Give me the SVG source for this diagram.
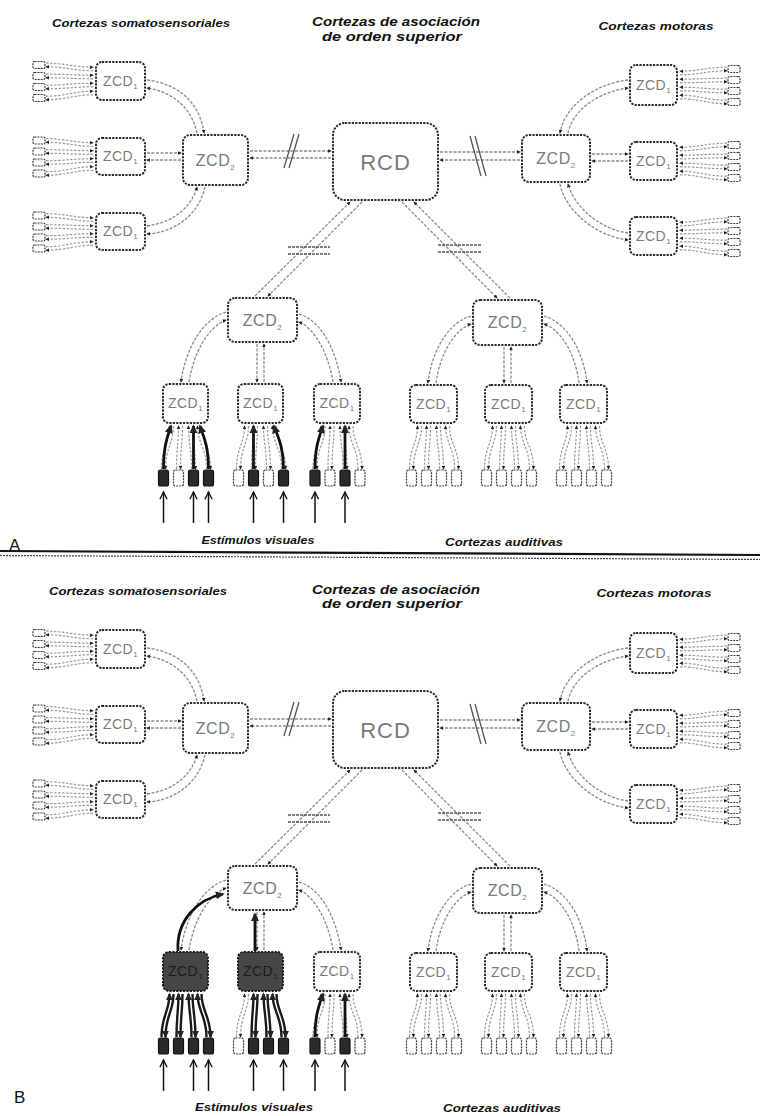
<svg xmlns="http://www.w3.org/2000/svg" xmlns:xlink="http://www.w3.org/1999/xlink" width="760" height="1116" viewBox="0 0 760 1116">
<style>
.nd{fill:#fff;stroke:#2b2b2b;stroke-width:2;stroke-dasharray:2.2 1.2}
.ndk{fill:#464646;stroke:#1a1a1a;stroke-width:2;stroke-dasharray:2.2 1.2}
.nt{font-family:"Liberation Sans",Arial,sans-serif;font-size:14px;fill:#7a7a7a;text-anchor:middle;letter-spacing:0.5px}
.ntk{fill:#1c1c1c}
.n2{font-size:16px}
.n3{font-size:22px;letter-spacing:1px}
.sb{font-size:8px}
.rc{fill:#fff;stroke:#3a3a3a;stroke-width:1.2;stroke-dasharray:2 1}
.rf{fill:#2a2a2a;stroke:#111;stroke-width:1.2}
.ln{fill:none}
.fg{stroke:#9a9a9a;stroke-width:1.2;stroke-dasharray:2.5 1.5}
.fk{stroke:#1a1a1a;stroke-width:2.4;stroke-dasharray:none}
.cn{fill:none;stroke:#8a8a8a;stroke-width:1.3;stroke-dasharray:3 1.5}
.tk{fill:none;stroke:#111;stroke-width:2.8}
.st{fill:none;stroke:#111;stroke-width:1.5}
.br{fill:none;stroke:#555;stroke-width:1.3}
.tt{font-family:"Liberation Sans",Arial,sans-serif;font-weight:bold;font-style:italic;fill:#111;text-anchor:middle}
.lb{font-family:"Liberation Sans",Arial,sans-serif;font-size:17px;fill:#111}
</style>
<defs>
<marker id="ah" viewBox="0 0 10 10" refX="8" refY="5" markerWidth="3.2" markerHeight="3.2" orient="auto"><path d="M0,0.5 L10,5 L0,9.5 z" fill="#222"/></marker>
<marker id="oa" markerUnits="userSpaceOnUse" viewBox="0 0 10 10" refX="9" refY="5" markerWidth="9" markerHeight="9" orient="auto"><path d="M1,1 L9,5 L1,9" fill="none" stroke="#111" stroke-width="1.5"/></marker>
<g id="lkL" class="ln">
<path d="M-50,-17.8 C-30,-17.8 -22,-13.8 -3,-13.8" marker-end="url(#ah)"/>
<path d="M-3,-10.2 C-22,-10.2 -30,-14.2 -50,-14.2" marker-end="url(#ah)"/>
<path d="M-50,-6.8 C-30,-6.8 -22,-5.8 -3,-5.8" marker-end="url(#ah)"/>
<path d="M-3,-2.2 C-22,-2.2 -30,-3.2 -50,-3.2" marker-end="url(#ah)"/>
<path d="M-50,4.2 C-30,4.2 -22,2.2 -3,2.2" marker-end="url(#ah)"/>
<path d="M-3,5.8 C-22,5.8 -30,7.8 -50,7.8" marker-end="url(#ah)"/>
<path d="M-50,15.2 C-30,15.2 -22,10.2 -3,10.2" marker-end="url(#ah)"/>
<path d="M-3,13.8 C-22,13.8 -30,18.8 -50,18.8" marker-end="url(#ah)"/>
</g>
<g id="rcL">
<rect class="rc" x="-63" y="-19.5" width="12" height="7" rx="1.5"/>
<rect class="rc" x="-63" y="-8.5" width="12" height="7" rx="1.5"/>
<rect class="rc" x="-63" y="2.5" width="12" height="7" rx="1.5"/>
<rect class="rc" x="-63" y="13.5" width="12" height="7" rx="1.5"/>
</g>
<g id="lk0" class="ln"><path d="M-24,46 C-24,25 -16,20 -16,3" marker-end="url(#ah)"/><path d="M-12,3 C-12,20 -20,25 -20,46" marker-end="url(#ah)"/></g>
<g id="lk1" class="ln"><path d="M-9,46 C-9,25 -7,20 -7,3" marker-end="url(#ah)"/><path d="M-3,3 C-3,20 -5,25 -5,46" marker-end="url(#ah)"/></g>
<g id="lk2" class="ln"><path d="M6,46 C6,25 3,20 3,3" marker-end="url(#ah)"/><path d="M7,3 C7,20 10,25 10,46" marker-end="url(#ah)"/></g>
<g id="lk3" class="ln"><path d="M21,46 C21,25 12,20 12,3" marker-end="url(#ah)"/><path d="M16,3 C16,20 25,25 25,46" marker-end="url(#ah)"/></g>
<g id="lkD"><use href="#lk0"/><use href="#lk1"/><use href="#lk2"/><use href="#lk3"/></g>
<g id="cmn">
<path class="cn" d="M147,80 C180,84 200,104 204,133" marker-end="url(#ah)"/>
<path class="cn" d="M197,133 C192,110 175,92 147,88" marker-end="url(#ah)"/>
<path class="cn" d="M147,153 L181,153" marker-end="url(#ah)"/>
<path class="cn" d="M181,160 L147,160" marker-end="url(#ah)"/>
<path class="cn" d="M147,226 C175,222 192,206 197,187" marker-end="url(#ah)"/>
<path class="cn" d="M205,187 C200,210 180,232 147,234" marker-end="url(#ah)"/>
<path class="cn" d="M250,151 L331,151" marker-end="url(#ah)"/>
<path class="cn" d="M331,158 L250,158" marker-end="url(#ah)"/>
<path class="br" d="M284,168 L294,134 M289,168 L299,134"/>
<path class="cn" d="M440,152 L520,152" marker-end="url(#ah)"/>
<path class="cn" d="M520,160 L440,160" marker-end="url(#ah)"/>
<path class="br" d="M470,136 L481,176 M475,136 L486,176"/>
<path class="cn" d="M568,133 C573,110 598,92 628,88" marker-end="url(#ah)"/>
<path class="cn" d="M628,80 C595,84 565,105 560,133" marker-end="url(#ah)"/>
<path class="cn" d="M592,154 L628,154" marker-end="url(#ah)"/>
<path class="cn" d="M628,161 L592,161" marker-end="url(#ah)"/>
<path class="cn" d="M560,184 C565,210 595,236 628,240" marker-end="url(#ah)"/>
<path class="cn" d="M628,233 C600,229 575,208 568,184" marker-end="url(#ah)"/>
<path class="cn" d="M362,202 L268,296" marker-end="url(#ah)"/>
<path class="cn" d="M255,296 L350,202" marker-end="url(#ah)"/>
<path class="br" d="M288,247 L330,247 M288,254 L330,254" stroke-dasharray="3 1"/>
<path class="cn" d="M402,202 L497,298" marker-end="url(#ah)"/>
<path class="cn" d="M510,298 L414,202" marker-end="url(#ah)"/>
<path class="br" d="M438,245 L482,245 M438,252 L482,252" stroke-dasharray="3 1"/>
<path class="cn" d="M226,312 C205,318 186,345 181,382" marker-end="url(#ah)"/>
<path class="cn" d="M189,382 C194,350 210,326 226,320" marker-end="url(#ah)"/>
<path class="cn" d="M257,344 L257,382" marker-end="url(#ah)"/>
<path class="cn" d="M264,382 L264,344" marker-end="url(#ah)"/>
<path class="cn" d="M299,314 C320,320 336,348 341,382" marker-end="url(#ah)"/>
<path class="cn" d="M333,382 C328,352 314,328 299,322" marker-end="url(#ah)"/>
<path class="cn" d="M471,316 C450,322 432,348 428,383" marker-end="url(#ah)"/>
<path class="cn" d="M436,383 C440,352 456,329 471,324" marker-end="url(#ah)"/>
<path class="cn" d="M504,347 L504,383" marker-end="url(#ah)"/>
<path class="cn" d="M511,383 L511,347" marker-end="url(#ah)"/>
<path class="cn" d="M544,316 C565,322 583,348 587,383" marker-end="url(#ah)"/>
<path class="cn" d="M579,383 C575,352 560,329 544,324" marker-end="url(#ah)"/>
<use href="#lkL" class="fg" transform="translate(96,81)"/>
<use href="#lkL" class="fg" transform="translate(96,156.5)"/>
<use href="#lkL" class="fg" transform="translate(96,231.5)"/>
<use href="#lkL" class="fg" transform="translate(677,85) scale(-1,1)"/>
<use href="#lkL" class="fg" transform="translate(677,161) scale(-1,1)"/>
<use href="#lkL" class="fg" transform="translate(677,236) scale(-1,1)"/>
<use href="#lkD" class="fg" x="337" y="423"/>
<use href="#lkD" class="fg" x="433.5" y="423"/>
<use href="#lkD" class="fg" x="508.5" y="423"/>
<use href="#lkD" class="fg" x="583.5" y="423"/>
<path class="tk" d="M315,469 C315,445 320,435 323,426" marker-end="url(#ah)"/>
<path class="tk" d="M345,469 L345,426" marker-end="url(#ah)"/>
<path class="st" d="M163.5,523 V492" marker-end="url(#oa)"/>
<path class="st" d="M193.5,523 V492" marker-end="url(#oa)"/>
<path class="st" d="M208.5,523 V492" marker-end="url(#oa)"/>
<path class="st" d="M253.5,523 V492" marker-end="url(#oa)"/>
<path class="st" d="M283.5,523 V492" marker-end="url(#oa)"/>
<path class="st" d="M315,523 V492" marker-end="url(#oa)"/>
<path class="st" d="M345,523 V492" marker-end="url(#oa)"/>
</g>
</defs>
<rect width="760" height="1116" fill="#fff"/>

<!-- PANEL A -->
<g id="panelA">
<g id="a-titles">
<text class="tt" x="141" y="27" font-size="11.5" textLength="178" lengthAdjust="spacingAndGlyphs">Cortezas somatosensoriales</text>
<text class="tt" x="396" y="26" font-size="13" textLength="168" lengthAdjust="spacingAndGlyphs">Cortezas de asociación</text>
<text class="tt" x="392" y="41" font-size="13" textLength="140" lengthAdjust="spacingAndGlyphs">de orden superior</text>
<text class="tt" x="656" y="30" font-size="11.5" textLength="115" lengthAdjust="spacingAndGlyphs">Cortezas motoras</text>
<text class="tt" x="258" y="544" font-size="11.5" textLength="113" lengthAdjust="spacingAndGlyphs">Estímulos visuales</text>
<text class="tt" x="504" y="546" font-size="11.5" textLength="118" lengthAdjust="spacingAndGlyphs">Cortezas auditivas</text>
</g>
<g id="a-nodes">
<g id="a-s1a"><rect class="nd" x="96" y="62" width="49" height="38" rx="6"/><text class="nt" x="120.5" y="86">ZCD<tspan class="sb" dy="3">1</tspan></text></g>
<g id="a-s1b"><rect class="nd" x="96" y="138" width="49" height="37" rx="6"/><text class="nt" x="120.5" y="161">ZCD<tspan class="sb" dy="3">1</tspan></text></g>
<g id="a-s1c"><rect class="nd" x="96" y="213" width="49" height="37" rx="6"/><text class="nt" x="120.5" y="236">ZCD<tspan class="sb" dy="3">1</tspan></text></g>
<g id="a-s2"><rect class="nd" x="183" y="135" width="65" height="50" rx="7"/><text class="nt n2" x="215.5" y="166">ZCD<tspan class="sb" dy="4">2</tspan></text></g>
<g id="a-rcd"><rect class="nd" x="333" y="123" width="105" height="77" rx="12"/><text class="nt n3" x="385.5" y="169.5">RCD</text></g>
<g id="a-m2"><rect class="nd" x="522" y="135" width="68" height="47" rx="7"/><text class="nt n2" x="556" y="164">ZCD<tspan class="sb" dy="4">2</tspan></text></g>
<g id="a-m1a"><rect class="nd" x="630" y="65" width="47" height="40" rx="6"/><text class="nt" x="653.5" y="90">ZCD<tspan class="sb" dy="3">1</tspan></text></g>
<g id="a-m1b"><rect class="nd" x="630" y="142" width="47" height="38" rx="6"/><text class="nt" x="653.5" y="166">ZCD<tspan class="sb" dy="3">1</tspan></text></g>
<g id="a-m1c"><rect class="nd" x="630" y="217" width="47" height="38" rx="6"/><text class="nt" x="653.5" y="241">ZCD<tspan class="sb" dy="3">1</tspan></text></g>
<g id="a-v2"><rect class="nd" x="228" y="298" width="69" height="44" rx="7"/><text class="nt n2" x="262.5" y="326">ZCD<tspan class="sb" dy="4">2</tspan></text></g>
<g id="a-v1a"><rect class="nd" x="163" y="384" width="45" height="39" rx="6"/><text class="nt" x="185.5" y="408">ZCD<tspan class="sb" dy="3">1</tspan></text></g>
<g id="a-v1b"><rect class="nd" x="238" y="384" width="45" height="39" rx="6"/><text class="nt" x="260.5" y="408">ZCD<tspan class="sb" dy="3">1</tspan></text></g>
<g id="a-v1c"><rect class="nd" x="314" y="384" width="46" height="39" rx="6"/><text class="nt" x="337" y="408">ZCD<tspan class="sb" dy="3">1</tspan></text></g>
<g id="a-a2"><rect class="nd" x="473" y="300" width="69" height="45" rx="7"/><text class="nt n2" x="507.5" y="328">ZCD<tspan class="sb" dy="4">2</tspan></text></g>
<g id="a-a1a"><rect class="nd" x="410" y="385" width="47" height="38" rx="6"/><text class="nt" x="433.5" y="409">ZCD<tspan class="sb" dy="3">1</tspan></text></g>
<g id="a-a1b"><rect class="nd" x="485" y="385" width="47" height="38" rx="6"/><text class="nt" x="508.5" y="409">ZCD<tspan class="sb" dy="3">1</tspan></text></g>
<g id="a-a1c"><rect class="nd" x="560" y="385" width="47" height="38" rx="6"/><text class="nt" x="583.5" y="409">ZCD<tspan class="sb" dy="3">1</tspan></text></g>
<g id="a-rs"><use href="#rcL" transform="translate(96,81)"/><use href="#rcL" transform="translate(96,156.5)"/><use href="#rcL" transform="translate(96,231.5)"/></g>
<g id="a-rm"><use href="#rcL" transform="translate(677,85) scale(-1,1)"/><use href="#rcL" transform="translate(677,161) scale(-1,1)"/><use href="#rcL" transform="translate(677,236) scale(-1,1)"/></g>
<g id="a-rv">
<rect class="rf" x="158.5" y="470" width="10" height="16" rx="2"/><rect class="rc" x="173.5" y="470" width="10" height="16" rx="2"/><rect class="rf" x="188.5" y="470" width="10" height="16" rx="2"/><rect class="rf" x="203.5" y="470" width="10" height="16" rx="2"/>
<rect class="rc" x="233.5" y="470" width="10" height="16" rx="2"/><rect class="rf" x="248.5" y="470" width="10" height="16" rx="2"/><rect class="rc" x="263.5" y="470" width="10" height="16" rx="2"/><rect class="rf" x="278.5" y="470" width="10" height="16" rx="2"/>
<rect class="rf" x="310" y="470" width="10" height="16" rx="2"/><rect class="rc" x="325" y="470" width="10" height="16" rx="2"/><rect class="rf" x="340" y="470" width="10" height="16" rx="2"/><rect class="rc" x="355" y="470" width="10" height="16" rx="2"/>
</g>
<g id="a-ra">
<rect class="rc" x="406.5" y="470" width="10" height="16" rx="2"/><rect class="rc" x="421.5" y="470" width="10" height="16" rx="2"/><rect class="rc" x="436.5" y="470" width="10" height="16" rx="2"/><rect class="rc" x="451.5" y="470" width="10" height="16" rx="2"/>
<rect class="rc" x="481.5" y="470" width="10" height="16" rx="2"/><rect class="rc" x="496.5" y="470" width="10" height="16" rx="2"/><rect class="rc" x="511.5" y="470" width="10" height="16" rx="2"/><rect class="rc" x="526.5" y="470" width="10" height="16" rx="2"/>
<rect class="rc" x="556.5" y="470" width="10" height="16" rx="2"/><rect class="rc" x="571.5" y="470" width="10" height="16" rx="2"/><rect class="rc" x="586.5" y="470" width="10" height="16" rx="2"/><rect class="rc" x="601.5" y="470" width="10" height="16" rx="2"/>
</g>
</g>
<g id="a-connectors">
<use href="#cmn"/>
<use href="#lkD" class="fg" x="185.5" y="423"/>
<use href="#lkD" class="fg" x="260.5" y="423"/>
<path class="tk" d="M163.5,469 C163.5,445 168,435 171,426" marker-end="url(#ah)"/>
<path class="tk" d="M193.5,469 L193.5,426" marker-end="url(#ah)"/>
<path class="tk" d="M208.5,469 C208.5,445 203,435 200,426" marker-end="url(#ah)"/>
<path class="tk" d="M253.5,469 L253.5,426" marker-end="url(#ah)"/>
<path class="tk" d="M283.5,469 C283.5,445 277,435 274,426" marker-end="url(#ah)"/>
</g>
</g>

<text class="lb" x="9" y="551">A</text>
<g id="separator">
<path d="M0,551 L760,555" fill="none" stroke="#111" stroke-width="2.2"/>
<path d="M0,555.5 L760,559.5" fill="none" stroke="#444" stroke-width="1.2" stroke-dasharray="2 1"/>
</g>

<!-- PANEL B -->
<g id="panelB" transform="translate(0,568)">
<g id="b-titles">
<text class="tt" x="138" y="27" font-size="11.5" textLength="178" lengthAdjust="spacingAndGlyphs">Cortezas somatosensoriales</text>
<text class="tt" x="396" y="26" font-size="13" textLength="168" lengthAdjust="spacingAndGlyphs">Cortezas de asociación</text>
<text class="tt" x="392" y="40" font-size="13" textLength="140" lengthAdjust="spacingAndGlyphs">de orden superior</text>
<text class="tt" x="654" y="29" font-size="11.5" textLength="115" lengthAdjust="spacingAndGlyphs">Cortezas motoras</text>
<text class="tt" x="254" y="543" font-size="11.5" textLength="118" lengthAdjust="spacingAndGlyphs">Estímulos visuales</text>
<text class="tt" x="502" y="544" font-size="11.5" textLength="118" lengthAdjust="spacingAndGlyphs">Cortezas auditivas</text>
</g>
<g id="b-nodes">
<g id="b-s1a"><rect class="nd" x="96" y="62" width="49" height="38" rx="6"/><text class="nt" x="120.5" y="86">ZCD<tspan class="sb" dy="3">1</tspan></text></g>
<g id="b-s1b"><rect class="nd" x="96" y="138" width="49" height="37" rx="6"/><text class="nt" x="120.5" y="161">ZCD<tspan class="sb" dy="3">1</tspan></text></g>
<g id="b-s1c"><rect class="nd" x="96" y="213" width="49" height="37" rx="6"/><text class="nt" x="120.5" y="236">ZCD<tspan class="sb" dy="3">1</tspan></text></g>
<g id="b-s2"><rect class="nd" x="183" y="135" width="65" height="50" rx="7"/><text class="nt n2" x="215.5" y="166">ZCD<tspan class="sb" dy="4">2</tspan></text></g>
<g id="b-rcd"><rect class="nd" x="333" y="123" width="105" height="77" rx="12"/><text class="nt n3" x="385.5" y="169.5">RCD</text></g>
<g id="b-m2"><rect class="nd" x="522" y="135" width="68" height="47" rx="7"/><text class="nt n2" x="556" y="164">ZCD<tspan class="sb" dy="4">2</tspan></text></g>
<g id="b-m1a"><rect class="nd" x="630" y="65" width="47" height="40" rx="6"/><text class="nt" x="653.5" y="90">ZCD<tspan class="sb" dy="3">1</tspan></text></g>
<g id="b-m1b"><rect class="nd" x="630" y="142" width="47" height="38" rx="6"/><text class="nt" x="653.5" y="166">ZCD<tspan class="sb" dy="3">1</tspan></text></g>
<g id="b-m1c"><rect class="nd" x="630" y="217" width="47" height="38" rx="6"/><text class="nt" x="653.5" y="241">ZCD<tspan class="sb" dy="3">1</tspan></text></g>
<g id="b-v2"><rect class="nd" x="228" y="298" width="69" height="44" rx="7"/><text class="nt n2" x="262.5" y="326">ZCD<tspan class="sb" dy="4">2</tspan></text></g>
<g id="b-v1a"><rect class="ndk" x="163" y="384" width="45" height="39" rx="6"/><text class="nt ntk" x="185.5" y="408">ZCD<tspan class="sb" dy="3">1</tspan></text></g>
<g id="b-v1b"><rect class="ndk" x="238" y="384" width="45" height="39" rx="6"/><text class="nt ntk" x="260.5" y="408">ZCD<tspan class="sb" dy="3">1</tspan></text></g>
<g id="b-v1c"><rect class="nd" x="314" y="384" width="46" height="39" rx="6"/><text class="nt" x="337" y="408">ZCD<tspan class="sb" dy="3">1</tspan></text></g>
<g id="b-a2"><rect class="nd" x="473" y="300" width="69" height="45" rx="7"/><text class="nt n2" x="507.5" y="328">ZCD<tspan class="sb" dy="4">2</tspan></text></g>
<g id="b-a1a"><rect class="nd" x="410" y="385" width="47" height="38" rx="6"/><text class="nt" x="433.5" y="409">ZCD<tspan class="sb" dy="3">1</tspan></text></g>
<g id="b-a1b"><rect class="nd" x="485" y="385" width="47" height="38" rx="6"/><text class="nt" x="508.5" y="409">ZCD<tspan class="sb" dy="3">1</tspan></text></g>
<g id="b-a1c"><rect class="nd" x="560" y="385" width="47" height="38" rx="6"/><text class="nt" x="583.5" y="409">ZCD<tspan class="sb" dy="3">1</tspan></text></g>
<g id="b-rs"><use href="#rcL" transform="translate(96,81)"/><use href="#rcL" transform="translate(96,156.5)"/><use href="#rcL" transform="translate(96,231.5)"/></g>
<g id="b-rm"><use href="#rcL" transform="translate(677,85) scale(-1,1)"/><use href="#rcL" transform="translate(677,161) scale(-1,1)"/><use href="#rcL" transform="translate(677,236) scale(-1,1)"/></g>
<g id="b-rv">
<rect class="rf" x="158.5" y="470" width="10" height="16" rx="2"/><rect class="rf" x="173.5" y="470" width="10" height="16" rx="2"/><rect class="rf" x="188.5" y="470" width="10" height="16" rx="2"/><rect class="rf" x="203.5" y="470" width="10" height="16" rx="2"/>
<rect class="rc" x="233.5" y="470" width="10" height="16" rx="2"/><rect class="rf" x="248.5" y="470" width="10" height="16" rx="2"/><rect class="rf" x="263.5" y="470" width="10" height="16" rx="2"/><rect class="rf" x="278.5" y="470" width="10" height="16" rx="2"/>
<rect class="rf" x="310" y="470" width="10" height="16" rx="2"/><rect class="rc" x="325" y="470" width="10" height="16" rx="2"/><rect class="rf" x="340" y="470" width="10" height="16" rx="2"/><rect class="rc" x="355" y="470" width="10" height="16" rx="2"/>
</g>
<g id="b-ra">
<rect class="rc" x="406.5" y="470" width="10" height="16" rx="2"/><rect class="rc" x="421.5" y="470" width="10" height="16" rx="2"/><rect class="rc" x="436.5" y="470" width="10" height="16" rx="2"/><rect class="rc" x="451.5" y="470" width="10" height="16" rx="2"/>
<rect class="rc" x="481.5" y="470" width="10" height="16" rx="2"/><rect class="rc" x="496.5" y="470" width="10" height="16" rx="2"/><rect class="rc" x="511.5" y="470" width="10" height="16" rx="2"/><rect class="rc" x="526.5" y="470" width="10" height="16" rx="2"/>
<rect class="rc" x="556.5" y="470" width="10" height="16" rx="2"/><rect class="rc" x="571.5" y="470" width="10" height="16" rx="2"/><rect class="rc" x="586.5" y="470" width="10" height="16" rx="2"/><rect class="rc" x="601.5" y="470" width="10" height="16" rx="2"/>
</g>
</g>
<g id="b-connectors">
<use href="#cmn"/>
<use href="#lkD" class="fk" x="185.5" y="423"/>
<use href="#lk0" class="fg" x="260.5" y="423"/>
<use href="#lk1" class="fk" x="260.5" y="423"/>
<use href="#lk2" class="fk" x="260.5" y="423"/>
<use href="#lk3" class="fk" x="260.5" y="423"/>
<path class="tk" d="M178,383 C176,352 198,331 223,326" marker-end="url(#ah)"/>
<path class="tk" d="M255,383 L255,346" marker-end="url(#ah)"/>
</g>
</g>
<text class="lb" x="14" y="1103">B</text>
</svg>
